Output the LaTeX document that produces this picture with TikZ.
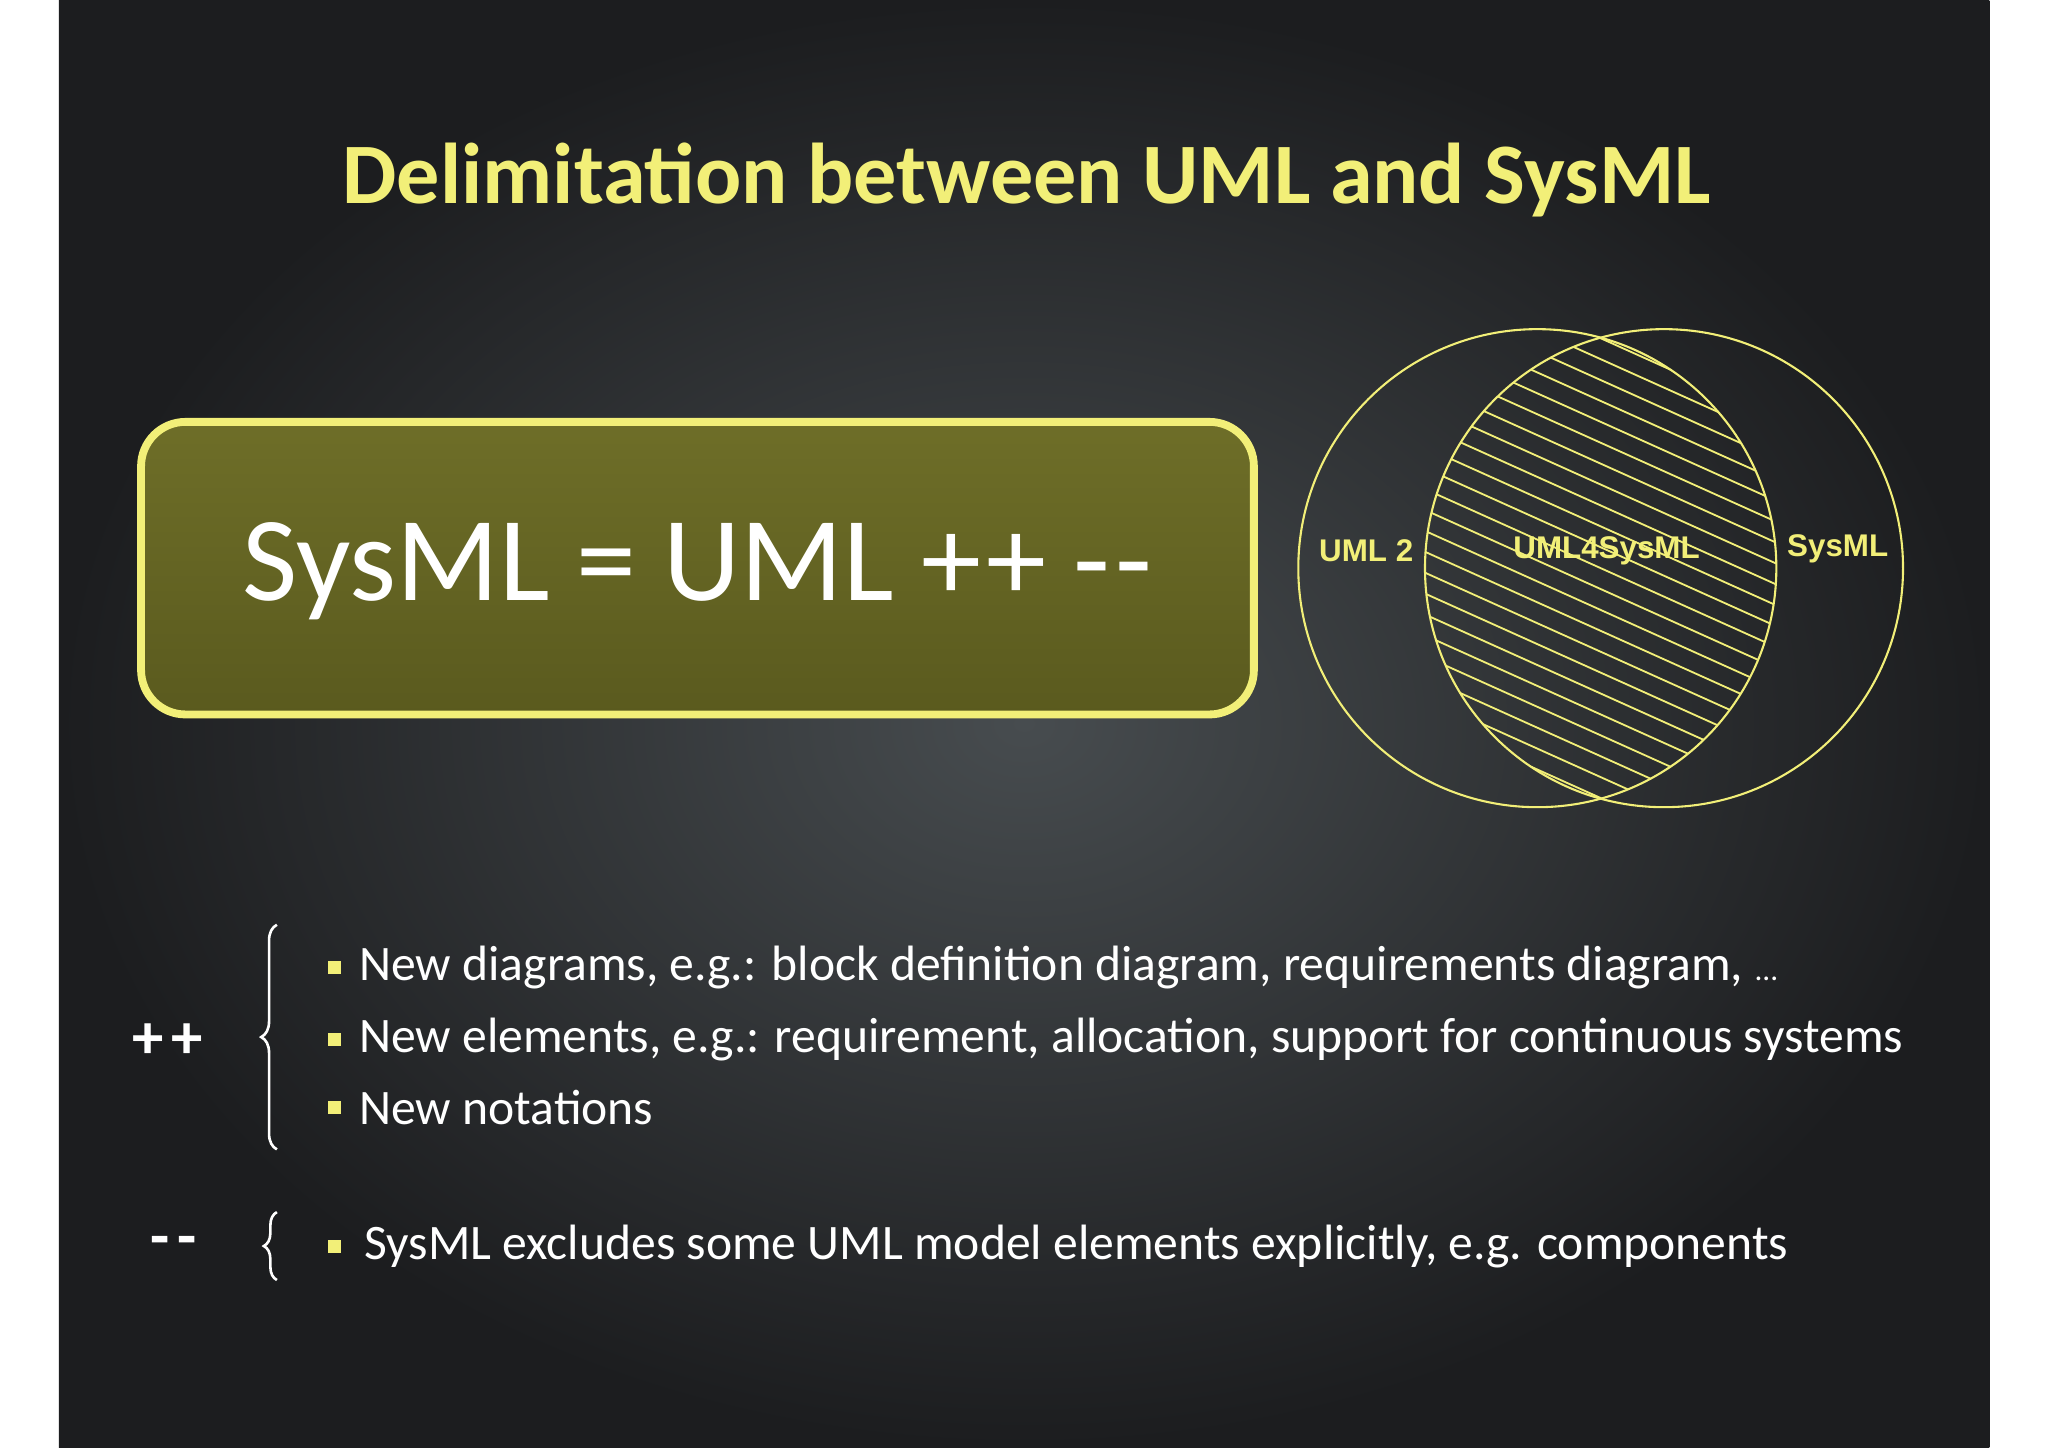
\documentclass[tikz,border=0pt]{standalone}
\usepackage{fontspec}
\usetikzlibrary{decorations.pathreplacing}
\setmainfont{Carlito}
\setsansfont{Liberation Sans}
\definecolor{ylw}{HTML}{F2EF78}
\definecolor{bgin}{HTML}{474C4F}
\definecolor{bgout}{HTML}{1C1D1F}
\definecolor{olive}{HTML}{5A5A1E}
\definecolor{olive2}{HTML}{6E6E28}
\tikzset{
  bul/.style={anchor=west,text=white,font=\fontsize{19}{22}\selectfont},
  sq/.style={fill=ylw,minimum size=5pt,inner sep=0pt},
  venn/.style={draw=ylw,line width=0.8pt},
  vlab/.style={text=ylw,font=\sffamily\bfseries\fontsize{12}{14}\selectfont},
  brc/.style={draw=white,line width=1pt,decorate,decoration={brace,amplitude=6pt}},
  sign/.style={text=white,font=\bfseries\fontsize{24}{26}\selectfont},
}
\begin{document}
\begin{tikzpicture}[x=0.5pt,y=-0.5pt]
\useasboundingbox (0,0) rectangle (1568,1108);
\fill[white] (0,0) rectangle (1568,1108);
\shade[inner color=bgin,outer color=bgout] (45,0) rectangle (1523,1108);
% title
\node[text=ylw,font=\bfseries\fontsize{33}{38}\selectfont] (title) at (786,138) {Delimitation between UML and SysML};
% box
\node[draw=ylw,line width=3pt,rounded corners=17pt,top color=olive2,bottom color=olive,minimum width=426pt,minimum height=112pt] (box) at (534,435) {};
\node[text=white,font=\fontsize{46}{50}\selectfont] (eq) at (534,437) {SysML = UML +\kern2pt+ -\kern2pt-};
% venn
\coordinate (cl) at (1177,435);
\coordinate (cr) at (1274,435);
\begin{scope}
\clip (cl) circle (91.5pt);
\clip (cr) circle (91.5pt);
\foreach \c in {-300,-284,...,700}{
  \draw[ylw,line width=0.7pt] (1050,\c) -- (1450,\c+180);
}
\end{scope}
\draw[venn] (cl) circle (91.5pt);
\draw[venn] (cr) circle (91.5pt);
\node[vlab] (u2) at (1046,422) {UML 2};
\node[vlab] (u4) at (1230,422) {UML4SysML};
\node[vlab] (sm) at (1407,420) {SysML};
% ++ section
\node[sign] (pp) at (128,797) {+\kern3pt+};
\coordinate (br1b) at (212,880);
\coordinate (br1t) at (212,708);
\draw[brc] (br1b) -- (br1t);
\node[sq] (b1) at (256,741) {};
\node[bul] (t1) at (268,741) {New diagrams, e.g.: block definition diagram, requirements diagram, \fontsize{12}{14}\selectfont ...};
\node[sq] (b2) at (256,796) {};
\node[bul] (t2) at (268,796) {New elements, e.g.: requirement, allocation, support for continuous systems};
\node[sq] (b3) at (256,848) {};
\node[bul] (t3) at (268,848) {New notations};
% -- section
\node[sign] (mm) at (133,955) {-\kern3pt-};
\coordinate (br2b) at (212,980);
\coordinate (br2t) at (212,928);
\draw[brc,decoration={brace,amplitude=5pt}] (br2b) -- (br2t);
\node[sq] (b4) at (256,954) {};
\node[bul] (t4) at (272,954) {SysML excludes some UML model elements explicitly, e.g. components};
\end{tikzpicture}
\end{document}
